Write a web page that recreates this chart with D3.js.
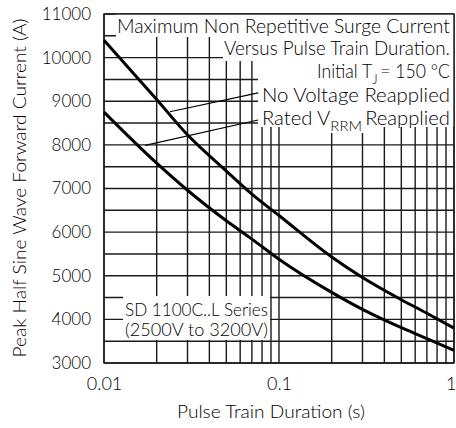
<!DOCTYPE html>
<html>
<head>
<meta charset="utf-8">
<script src="https://cdn.jsdelivr.net/npm/d3@7"></script>
<style>
body{margin:0;background:#fff}
svg{display:block}
text{font-family:Lato,"Open Sans",sans-serif;font-weight:300;fill:#000}
</style>
</head>
<body>
<div id="chart"></div>
<script>
// pulse train duration (s) and the two surge current curves (A)
var duration = [0.01, 0.02, 0.03, 0.05, 0.07, 0.1, 0.2, 0.3, 0.5, 0.7, 1]
var noVoltage = [10400, 9040, 8230, 7400, 6870, 6380, 5430, 4960, 4450, 4140, 3800]
var ratedVrrm = [8750, 7580, 6960, 6260, 5840, 5380, 4620, 4230, 3810, 3560, 3290]

var xTickValues = [0.01, 0.1, 1]
var xTickLabels = ["0.01", "0.1", "1"]
var yTickValues = [3000, 4000, 5000, 6000, 7000, 8000, 9000, 10000, 11000]

// leader lines: [from point on curve, to label]
var leaderNoVoltage = [[0.0238, 8760], [0.076, 9190]]
var leaderRated = [[0.0172, 7990], [0.076, 8570]]

var svgWidth = 456
var svgHeight = 428
var margin = {top: 14, right: 2, bottom: 65, left: 104}
var chartWidth = svgWidth - margin.left - margin.right
var chartHeight = svgHeight - margin.top - margin.bottom

var svg = d3.select("#chart").append("svg")
    .attr("width", svgWidth)
    .attr("height", svgHeight)

var chartGroup = svg.append("g")
    .attr("transform", `translate(${margin.left},${margin.top})`)

var xScale = d3.scaleLog().domain([0.01, 1]).range([0, chartWidth])
var yScale = d3.scaleLinear().domain([3000, 11000]).range([chartHeight, 0])

// grid
var xGrid = []
;[0.01, 0.1].forEach(function(dec){
    for (var i = 1; i < 10; i++) xGrid.push(dec * i)
})
xGrid.push(1)
var yGrid = d3.range(3000, 11001, 500)

chartGroup.selectAll(".vgrid").data(xGrid).enter().append("line")
    .attr("x1", d => xScale(d)).attr("x2", d => xScale(d))
    .attr("y1", 0).attr("y2", chartHeight)
    .attr("stroke", "#1a1a1a").attr("stroke-width", 1.4)

chartGroup.selectAll(".hgrid").data(yGrid).enter().append("line")
    .attr("x1", 0).attr("x2", chartWidth)
    .attr("y1", d => yScale(d)).attr("y2", d => yScale(d))
    .attr("stroke", "#1a1a1a").attr("stroke-width", 1.4)

// white backgrounds behind the labels
var boxes = [
    [12, 0, 338, 23],
    [119, 23, 231, 24],
    [154, 47, 196, 66],
    [226, 113, 35, 6],
    [19, 282, 147, 44]
]
chartGroup.selectAll(".box").data(boxes).enter().append("rect")
    .attr("x", d => d[0]).attr("y", d => d[1])
    .attr("width", d => d[2]).attr("height", d => d[3])
    .attr("fill", "#fff")

chartGroup.append("rect")
    .attr("width", chartWidth).attr("height", chartHeight)
    .attr("fill", "none").attr("stroke", "#1a1a1a").attr("stroke-width", 1.4)

// curves
var line = d3.line()
    .x(d => xScale(d[0]))
    .y(d => yScale(d[1]))
    .curve(d3.curveMonotoneX)

;[noVoltage, ratedVrrm].forEach(function(series){
    chartGroup.append("path")
        .datum(duration.map((d, i) => [d, series[i]]))
        .attr("d", line)
        .attr("fill", "none")
        .attr("stroke", "#000")
        .attr("stroke-width", 3)
})

;[leaderNoVoltage, leaderRated].forEach(function(l){
    chartGroup.append("line")
        .attr("x1", xScale(l[0][0])).attr("y1", yScale(l[0][1]))
        .attr("x2", xScale(l[1][0])).attr("y2", yScale(l[1][1]))
        .attr("stroke", "#000").attr("stroke-width", 1.2)
})

// axes
var leftAxis = d3.axisLeft(yScale).tickValues(yTickValues)
    .tickFormat(d3.format("d")).tickSize(0).tickPadding(13)
var yAxis = chartGroup.append("g").call(leftAxis)
yAxis.select(".domain").remove()
yAxis.selectAll("text").attr("font-size", 17).style("font-family", "Lato,sans-serif").style("font-weight", 300)

var bottomAxis = d3.axisBottom(xScale).tickValues(xTickValues)
    .tickFormat((d, i) => xTickLabels[i]).tickSize(0).tickPadding(14)
var xAxis = chartGroup.append("g")
    .attr("transform", `translate(0,${chartHeight})`)
    .call(bottomAxis)
xAxis.select(".domain").remove()
xAxis.selectAll("text").attr("font-size", 18).style("font-family", "Lato,sans-serif").style("font-weight", 300)
    .filter(d => d === 1).attr("text-anchor", "end").attr("dx", 2)

svg.append("text")
    .attr("x", 271).attr("y", 418)
    .attr("text-anchor", "middle")
    .attr("font-size", 17)
    .attr("textLength", 188).attr("lengthAdjust", "spacingAndGlyphs")
    .text("Pulse Train Duration (s)")

svg.append("text")
    .attr("transform", "translate(25.5,188) rotate(-90)")
    .attr("text-anchor", "middle")
    .attr("font-size", 17)
    .attr("textLength", 339).attr("lengthAdjust", "spacingAndGlyphs")
    .text("Peak Half Sine Wave Forward Current (A)")

// annotation texts; parts: [text, isSubscript]
var notes = [
    {parts: [["Maximum Non Repetitive Surge Current", 0]], x: 117, y: 33, len: 333, fs: 19},
    {parts: [["Versus Pulse Train Duration.", 0]], x: 224, y: 55, len: 226, fs: 19},
    {parts: [["Initial T", 0], ["J", 1], ["= 150 °C", 0]], x: 317, y: 78, len: 133, fs: 19},
    {parts: [["No Voltage Reapplied", 0]], x: 262, y: 102, len: 188, fs: 19},
    {parts: [["Rated V", 0], ["RRM", 1], ["Reapplied", 0]], x: 262, y: 125, len: 188, fs: 19},
    {parts: [["SD 1100C..L Series", 0]], x: 125, y: 316, len: 143, fs: 17},
    {parts: [["(2500V to 3200V)", 0]], x: 125, y: 336, len: 143, fs: 17}
]
var noteText = svg.selectAll(".note").data(notes).enter().append("text")
    .attr("x", d => d.x).attr("y", d => d.y)
    .attr("font-size", d => d.fs)
    .attr("textLength", d => d.len).attr("lengthAdjust", "spacingAndGlyphs")

noteText.each(function(d){
    var t = d3.select(this)
    var prevSub = 0
    d.parts.forEach(function(p){
        var dy = p[1] ? 6 : (prevSub ? -6 : 0)
        t.append("tspan")
            .attr("dy", dy)
            .attr("dx", prevSub ? 3 : 0)
            .attr("font-size", p[1] ? 14 : d.fs)
            .text(p[0])
        prevSub = p[1]
    })
})
</script>
</body>
</html>
